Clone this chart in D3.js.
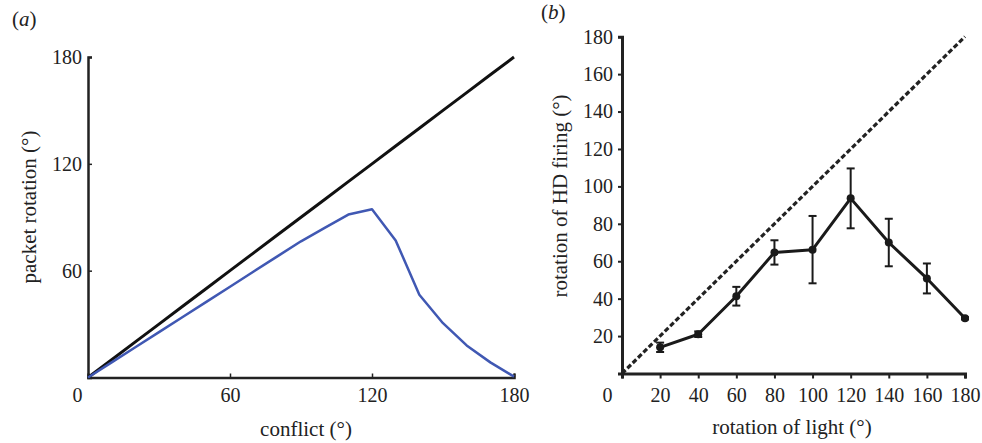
<!DOCTYPE html>
<html>
<head>
<meta charset="utf-8">
<script src="https://cdn.jsdelivr.net/npm/d3@7"></script>
<style>
  body { margin: 0; background: #fff; }
  text { font-family: "Liberation Serif", "DejaVu Serif", serif; fill: #222; }
</style>
</head>
<body>
<svg id="chart" width="982" height="443"></svg>
<script>
// panel (a) data
const conflict = [0, 10, 20, 30, 40, 50, 60, 70, 80, 90, 100, 110, 120, 130, 140, 150, 160, 170, 180];
const packetRotation = [0, 8.5, 17, 25.5, 34, 42.5, 51, 59.5, 68, 76.5, 84, 91.5, 94.5, 77, 46.5, 30.5, 18, 8.5, 0.5];
const ticksA = [0, 60, 120, 180];

// panel (b) data
const lightRotation = [20, 40, 60, 80, 100, 120, 140, 160, 180];
const hdRotation = [14, 21, 41.3, 64.7, 66.2, 93.6, 70, 50.8, 29.5];
const hdError = [2.5, 1.5, 5, 6.5, 18, 16, 12.7, 8, 0.6];
const ticksBx = [0, 20, 40, 60, 80, 100, 120, 140, 160, 180];
const ticksBy = [20, 40, 60, 80, 100, 120, 140, 160, 180];

const svg = d3.select('#chart');

// ---------- panel (a) ----------
const xA = d3.scaleLinear().domain([0, 180]).range([88, 514]);
const yA = d3.scaleLinear().domain([0, 180]).range([377.5, 57]);

const gA = svg.append('g');

gA.append('g')
  .attr('transform', `translate(0,${yA(0)})`)
  .call(d3.axisBottom(xA).tickValues(ticksA).tickSize(-4).tickPadding(10))
  .call(g => g.select('.domain').attr('stroke', '#222').attr('stroke-width', 2.5))
  .call(g => g.selectAll('.tick line').attr('stroke', '#222').attr('stroke-width', 1.5))
  .call(g => g.selectAll('.tick text').attr('font-size', 20).attr('dy', '0.71em'))
  .call(g => g.selectAll('.tick').filter(d => d === 0).select('text').attr('dx', -11))
  .call(g => g.selectAll('.tick').filter(d => d === 0).select('line').remove());

gA.append('g')
  .attr('transform', `translate(${xA(0)},0)`)
  .call(d3.axisLeft(yA).tickValues(ticksA.filter(d => d > 0)).tickSize(-4).tickPadding(6))
  .call(g => g.select('.domain').attr('stroke', '#222').attr('stroke-width', 2.5))
  .call(g => g.selectAll('.tick line').attr('stroke', '#222').attr('stroke-width', 1.5))
  .call(g => g.selectAll('.tick text').attr('font-size', 20));

const lineA = d3.line().x((d, i) => xA(conflict[i])).y(d => yA(d));

gA.append('path')
  .datum(conflict)
  .attr('d', lineA)
  .attr('fill', 'none')
  .attr('stroke', '#111')
  .attr('stroke-width', 3);

gA.append('path')
  .datum(packetRotation)
  .attr('d', lineA)
  .attr('fill', 'none')
  .attr('stroke', '#4058b3')
  .attr('stroke-width', 2.5)
  .attr('stroke-linejoin', 'round');

gA.append('text')
  .attr('x', 12).attr('y', 26)
  .attr('font-size', 21)
  .html('(<tspan font-style="italic">a</tspan>)');

gA.append('text')
  .attr('transform', 'translate(36,207) rotate(-90)')
  .attr('text-anchor', 'middle')
  .attr('font-size', 21)
  .text('packet rotation (°)');

gA.append('text')
  .attr('x', 306).attr('y', 436)
  .attr('text-anchor', 'middle')
  .attr('font-size', 21)
  .text('conflict (°)');

// ---------- panel (b) ----------
const xB = d3.scaleLinear().domain([0, 180]).range([622, 965]);
const yB = d3.scaleLinear().domain([0, 180]).range([373.5, 36.7]);

const gB = svg.append('g');

gB.append('g')
  .attr('transform', `translate(0,${yB(0)})`)
  .call(d3.axisBottom(xB).tickValues(ticksBx).tickSize(5).tickPadding(9))
  .call(g => g.select('.domain').attr('stroke', '#222').attr('stroke-width', 3))
  .call(g => g.selectAll('.tick line').attr('stroke', '#222').attr('stroke-width', 2))
  .call(g => g.selectAll('.tick text').attr('font-size', 20).attr('dy', '0.71em'))
  .call(g => g.selectAll('.tick').filter(d => d === 0).select('text').attr('dx', -15));

gB.append('g')
  .attr('transform', `translate(${xB(0)},0)`)
  .call(d3.axisLeft(yB).tickValues(ticksBy).tickSize(4).tickPadding(5))
  .call(g => g.select('.domain').attr('stroke', '#222').attr('stroke-width', 3))
  .call(g => g.selectAll('.tick line').attr('stroke', '#222').attr('stroke-width', 2))
  .call(g => g.selectAll('.tick text').attr('font-size', 20));

// identity (dashed)
gB.append('line')
  .attr('x1', xB(0)).attr('y1', yB(0))
  .attr('x2', xB(180)).attr('y2', yB(180))
  .attr('stroke', '#222')
  .attr('stroke-width', 3.2)
  .attr('stroke-dasharray', '5,2.5');

const lineB = d3.line().x((d, i) => xB(lightRotation[i])).y(d => yB(d));

gB.append('path')
  .datum(hdRotation)
  .attr('d', lineB)
  .attr('fill', 'none')
  .attr('stroke', '#1a1a1a')
  .attr('stroke-width', 3)
  .attr('stroke-linejoin', 'round');

// error bars
const bars = gB.selectAll('.err')
  .data(lightRotation.map((x, i) => ({ x, y: hdRotation[i], e: hdError[i] })))
  .enter().append('g').attr('class', 'err');

bars.append('line')
  .attr('x1', d => xB(d.x)).attr('x2', d => xB(d.x))
  .attr('y1', d => yB(d.y - d.e)).attr('y2', d => yB(d.y + d.e))
  .attr('stroke', '#1a1a1a').attr('stroke-width', 2);

bars.append('line')
  .attr('x1', d => xB(d.x) - 4).attr('x2', d => xB(d.x) + 4)
  .attr('y1', d => yB(d.y + d.e)).attr('y2', d => yB(d.y + d.e))
  .attr('stroke', '#1a1a1a').attr('stroke-width', 2);

bars.append('line')
  .attr('x1', d => xB(d.x) - 4).attr('x2', d => xB(d.x) + 4)
  .attr('y1', d => yB(d.y - d.e)).attr('y2', d => yB(d.y - d.e))
  .attr('stroke', '#1a1a1a').attr('stroke-width', 2);

bars.append('circle')
  .attr('cx', d => xB(d.x))
  .attr('cy', d => yB(d.y))
  .attr('r', 4)
  .attr('fill', '#1a1a1a');

gB.append('text')
  .attr('x', 541).attr('y', 19)
  .attr('font-size', 21)
  .html('(<tspan font-style="italic">b</tspan>)');

gB.append('text')
  .attr('transform', 'translate(567,196) rotate(-90)')
  .attr('text-anchor', 'middle')
  .attr('font-size', 21)
  .text('rotation of HD firing (°)');

gB.append('text')
  .attr('x', 792).attr('y', 434)
  .attr('text-anchor', 'middle')
  .attr('font-size', 21)
  .text('rotation of light (°)');
</script>
</body>
</html>
